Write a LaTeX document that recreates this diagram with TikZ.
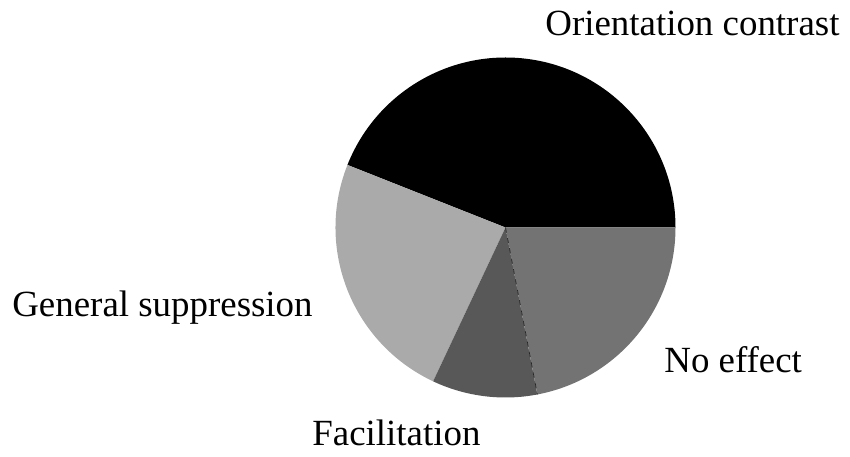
\documentclass[tikz,border=0pt]{standalone}
\usepackage{fontspec}
\setmainfont{Liberation Serif}
\usepackage{tikz}
\usetikzlibrary{positioning, calc}
\definecolor{contrastblack}{RGB}{0,0,0}
\definecolor{suppressgray}{RGB}{170,170,170}
\definecolor{facilgray}{RGB}{88,88,88}
\definecolor{noeffectgray}{RGB}{115,115,115}

\begin{document}
\begin{tikzpicture}
    \useasboundingbox (0,0) rectangle (17,9.12);
    \tikzset{slicelabel/.style={anchor=base west, inner sep=0pt, font=\fontsize{21}{25}\selectfont}}
    \coordinate (centre) at (10.11,4.57);

    % Orientation contrast slice
    \fill[contrastblack] (centre) -- ++(0:3.4) arc (0:158.4:3.4) -- cycle;
    \node[slicelabel] (contrast) at (10.9,8.40) {Orientation contrast};

    % General suppression slice
    \fill[suppressgray] (centre) -- ++(158.4:3.4) arc (158.4:244.8:3.4) -- cycle;
    \node[slicelabel] (suppress) at (0.24,2.78) {General suppression};

    % Facilitation slice
    \fill[facilgray] (centre) -- ++(244.8:3.4) arc (244.8:280.8:3.4) -- cycle;
    \node[slicelabel] (facil) at (6.24,0.22) {Facilitation};

    % No effect slice
    \fill[noeffectgray] (centre) -- ++(280.8:3.4) arc (280.8:360:3.4) -- cycle;
    \draw[black!85, dashed, thin] (centre) -- ++(280.8:3.4);
    \node[slicelabel] (noeffect) at (13.28,1.66) {No effect};
\end{tikzpicture}
\end{document}
